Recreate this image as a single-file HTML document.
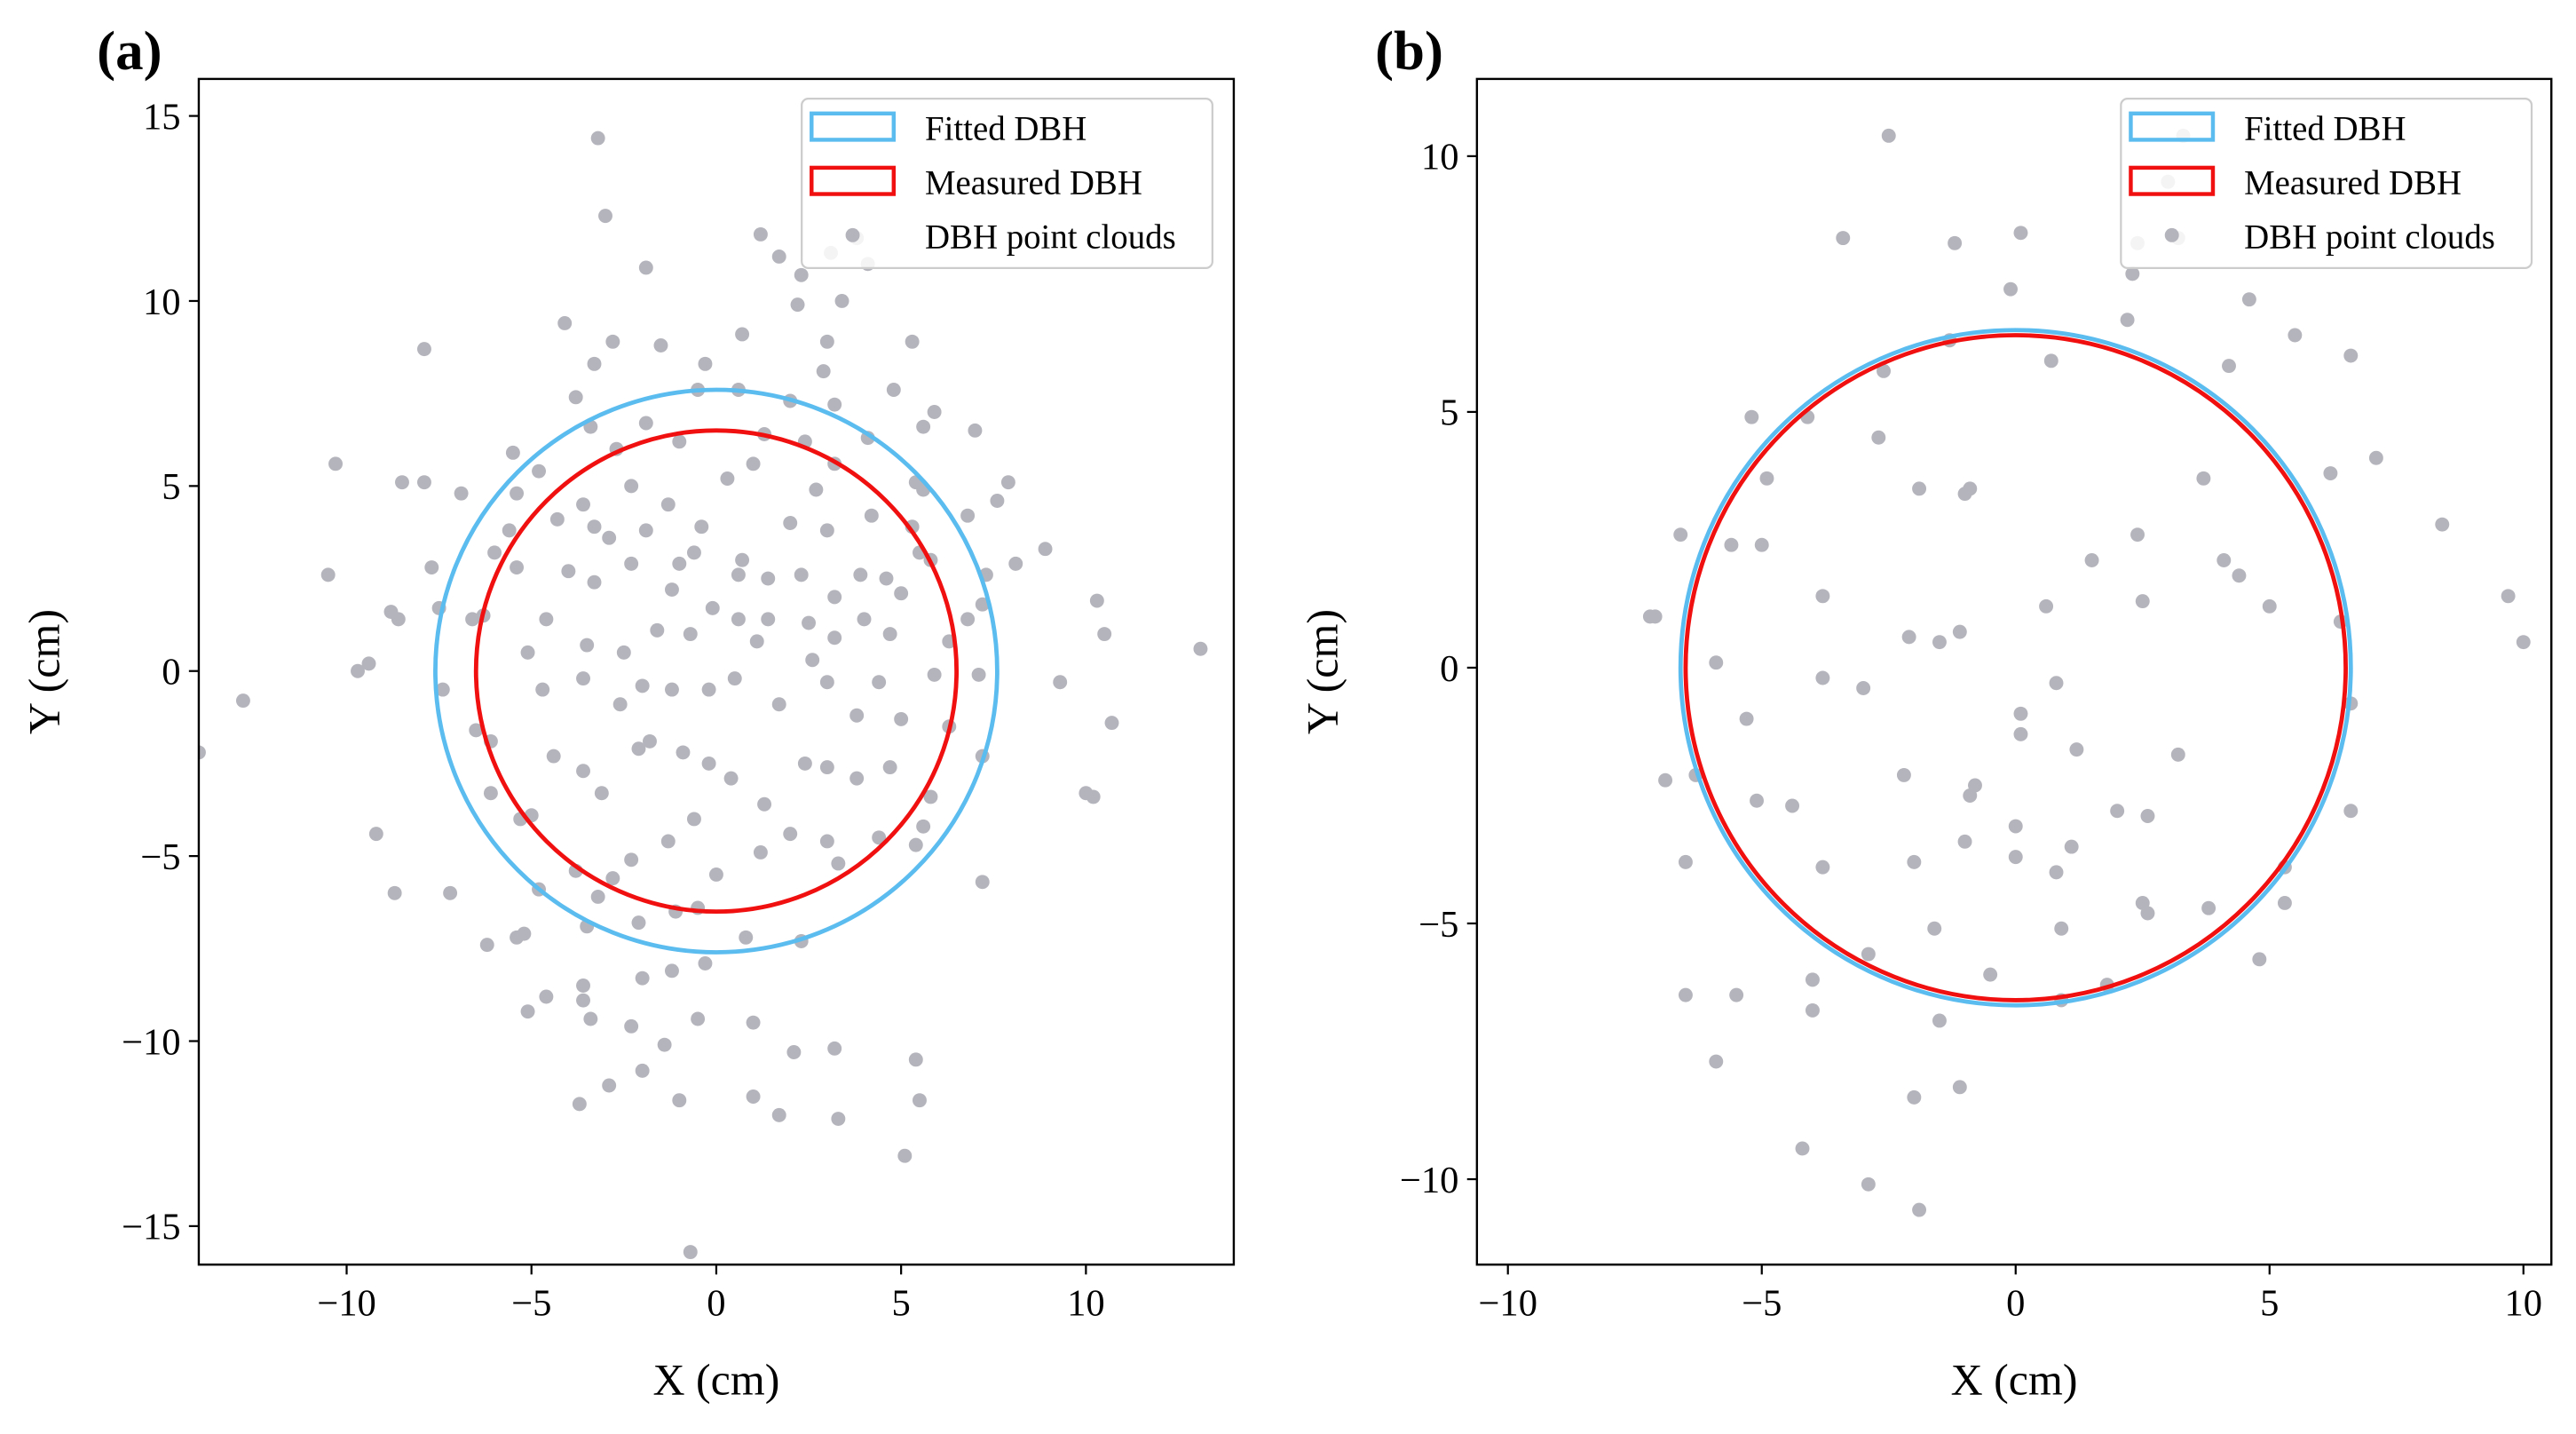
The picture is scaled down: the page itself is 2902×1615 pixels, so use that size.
<!DOCTYPE html>
<html><head><meta charset="utf-8"><style>
html,body{margin:0;padding:0;background:#fff;}
svg{display:block;font-family:"Liberation Serif",serif;}
</style></head><body>
<svg id="chart" width="2902" height="1615" viewBox="0 0 1568 872" preserveAspectRatio="none" xmlns="http://www.w3.org/2000/svg">
<defs>
<clipPath id="clipA"><rect x="121" y="48" width="630" height="721"/></clipPath>
<clipPath id="clipB"><rect x="899" y="48" width="654" height="721"/></clipPath>
</defs>
<g id="pa"></g>
<g id="pb"></g>
</svg>
<script>
const NS="http://www.w3.org/2000/svg";
const ptsA_x=[-3.2,-3.0,-1.9,1.2,1.7,2.3,3.1,3.8,3.4,2.2,3.0,4.1,5.3,0.7,-0.3,-1.5,-2.8,-3.3,-4.1,-3.8,-7.9,-5.5,-3.4,-1.9,-0.5,0.6,2.0,3.2,4.8,5.6,5.9,7.0,2.9,-10.3,-8.5,-7.9,-6.9,-5.4,-4.8,-2.7,-2.3,-1.0,0.3,1.0,1.3,2.4,3.2,4.1,5.4,5.6,7.6,7.9,6.8,-3.6,-4.3,-5.6,-6.0,-3.3,-2.9,-1.9,-1.3,-0.4,-0.6,-1.0,0.7,1.4,2.0,2.7,3.0,4.2,5.3,5.5,5.8,-10.5,-8.8,-8.6,-7.7,-7.5,-6.3,-5.4,-4.0,-3.3,-2.3,-1.2,-0.1,0.6,1.4,2.3,2.5,3.2,3.9,4.6,5.0,7.3,7.2,8.1,8.9,6.8,-9.4,-9.7,-7.4,-6.6,-5.1,-4.6,-3.5,-2.5,-1.6,-0.7,0.6,1.1,2.6,3.2,4.0,4.7,6.3,7.1,10.3,10.5,13.1,9.3,-12.8,-14,-6.5,-6.1,-4.7,-3.6,-2.6,-2.0,-1.2,-0.2,0.5,1.7,3.0,3.8,4.4,5.0,5.9,6.3,7.2,10.7,-9.2,-8.7,-7.2,-6.1,-5.3,-4.4,-3.6,-3.1,-2.1,-1.8,-0.9,-0.2,0.4,1.3,2.4,3.0,3.8,4.7,5.8,5.6,10.0,10.2,7.2,-5.0,-4.8,-3.8,-2.8,-2.3,-1.3,-0.6,0.0,1.2,2.0,3.0,3.3,4.4,5.4,-6.2,-5.4,-5.2,-3.5,-3.2,-2.1,-1.1,-0.5,-0.3,-1.2,0.8,2.3,-5.1,-4.6,-3.6,-3.6,-3.4,-2.3,-2.0,-1.4,-0.5,1.0,2.1,3.2,-2.0,-2.9,-3.7,-1.0,1.0,1.7,3.3,5.4,5.5,5.1,-0.7];
const ptsA_y=[14.4,12.3,10.9,11.8,11.2,10.7,11.3,11.7,10.0,9.9,8.9,11.0,8.9,9.1,8.3,8.8,8.9,8.3,9.4,7.4,8.7,5.9,6.6,6.7,7.6,7.6,7.3,7.2,7.6,6.6,7.0,6.5,8.1,5.6,5.1,5.1,4.8,4.8,5.4,6.0,5.0,6.2,5.2,5.6,6.4,6.2,5.6,6.3,5.1,4.9,4.6,5.1,4.2,4.5,4.1,3.8,3.2,3.9,3.6,3.8,4.5,3.9,3.2,2.9,3.0,2.5,4.0,4.9,3.8,4.2,3.9,3.2,3.0,2.6,1.6,1.4,2.8,1.7,1.5,2.8,2.7,2.4,2.9,2.2,1.7,2.6,1.4,2.6,1.3,2.0,2.6,2.5,2.1,2.6,1.8,2.9,3.3,1.4,0.2,0.0,-0.5,1.4,0.5,1.4,0.7,0.5,1.1,1.0,1.4,0.8,0.3,0.9,1.4,1.0,0.8,-0.1,1.9,1.0,0.6,-0.3,-0.8,-2.2,-1.6,-1.9,-0.5,-0.2,-0.9,-0.4,-0.5,-0.5,-0.2,-0.9,-0.3,-1.2,-0.3,-1.3,-0.1,-1.5,-2.3,-1.4,-4.4,-6.0,-6.0,-3.3,-4.0,-2.3,-2.7,-3.3,-2.1,-1.9,-2.2,-2.5,-2.9,-3.6,-2.5,-2.6,-2.9,-2.6,-3.4,-4.2,-3.3,-3.4,-5.7,-3.9,-5.9,-5.4,-5.6,-5.1,-4.6,-4.0,-5.5,-4.9,-4.4,-4.6,-5.2,-4.5,-4.7,-7.4,-7.2,-7.1,-6.9,-6.1,-6.8,-6.5,-6.4,-7.9,-8.1,-7.2,-7.3,-9.2,-8.8,-8.5,-8.9,-9.4,-9.6,-8.3,-10.1,-9.4,-9.5,-10.3,-10.2,-10.8,-11.2,-11.7,-11.6,-11.5,-12.0,-12.1,-10.5,-11.6,-13.1,-15.7];
const ptsB_x=[-2.5,3.3,-3.4,-1.2,0.1,3.0,2.4,3.2,2.3,2.2,-0.1,4.6,5.5,6.6,4.2,-1.3,-2.6,0.7,-2.7,-5.2,-4.1,-4.9,-1.9,-1.0,-0.9,3.7,6.2,7.1,8.4,-6.6,-5.6,-5.0,1.5,2.4,4.1,4.4,-3.8,2.5,5.0,6.4,9.7,10.0,-7.2,-7.1,-2.1,-1.1,-1.5,0.6,-5.9,-3.8,-3.0,0.8,0.1,0.1,-5.3,6.6,-6.9,-6.3,1.2,3.2,-2.2,-5.1,-4.4,-0.8,-0.9,2.0,2.6,6.6,0.0,-1.0,0.0,1.1,-6.5,-3.8,-2.0,0.8,5.3,2.5,2.6,3.8,5.3,0.9,-1.6,-2.9,4.8,-0.5,-4.0,1.8,0.9,-6.5,-5.5,-4.0,-1.5,-5.9,-2.0,-1.1,-4.2,-2.9,-1.9];
const ptsB_y=[10.4,10.4,8.4,8.3,8.5,9.5,8.3,8.4,7.7,6.8,7.4,7.2,6.5,6.1,5.9,6.4,5.8,6.0,4.5,4.9,4.9,3.7,3.5,3.4,3.5,3.7,3.8,4.1,2.8,2.6,2.4,2.4,2.1,2.6,2.1,1.8,1.4,1.3,1.2,0.9,1.4,0.5,1.0,1.0,0.6,0.7,0.5,1.2,0.1,-0.2,-0.4,-0.3,-0.9,-1.3,-1.0,-0.7,-2.2,-2.1,-1.6,-1.7,-2.1,-2.6,-2.7,-2.3,-2.5,-2.8,-2.9,-2.8,-3.1,-3.4,-3.7,-3.5,-3.8,-3.9,-3.8,-4.0,-3.9,-4.6,-4.8,-4.7,-4.6,-5.1,-5.1,-5.6,-5.7,-6.0,-6.1,-6.2,-6.5,-6.4,-6.4,-6.7,-6.9,-7.7,-8.4,-8.2,-9.4,-10.1,-10.6];
const radiiA=[7.6,6.5];
const radiiB=[6.6,6.5];
const ticksA_x=[-10,-5,0,5,10], ticksA_y=[-15,-10,-5,0,5,10,15];
const ticksB_x=[-10,-5,0,5,10], ticksB_y=[-10,-5,0,5,10];
const legendLabels=["Fitted DBH","Measured DBH","DBH point clouds"];

function el(tag,attrs,parent,text){const e=document.createElementNS(NS,tag);for(const k in attrs)e.setAttribute(k,attrs[k]);if(text!==undefined)e.textContent=text;parent.appendChild(e);return e;}

function panel(g,cfg){
  const {L,R,T,B,x0,x1,y0,y1,xs,ys,radii,tx,ty,clip,label,lgX,lgW}=cfg;
  const sx=v=>L+(v-x0)/(x1-x0)*(R-L);
  const sy=v=>B-(v-y0)/(y1-y0)*(B-T);
  const pg=el('g',{'clip-path':'url(#'+clip+')'},g);
  
  
  for(let i=0;i<xs.length;i++){
    const c=el('circle',{cx:sx(xs[i]),cy:sy(ys[i]),r:4.3,fill:'#b4b4bc'},pg);
    
    
  }
  const unit=(R-L)/(x1-x0), unitY=(B-T)/(y1-y0);
  const f=el('ellipse',{cx:sx(0),cy:sy(0),rx:radii[0]*unit,ry:radii[0]*unitY,fill:'none',stroke:'#5bbcef','stroke-width':2.6},g);
  
  
  const m=el('ellipse',{cx:sx(0),cy:sy(0),rx:radii[1]*unit,ry:radii[1]*unitY,fill:'none',stroke:'#f01010','stroke-width':2.6},g);
  
  
  const fr=el('rect',{x:L,y:T,width:R-L,height:B-T,fill:'none',stroke:'#000','stroke-width':1.3},g);
  
  
  tx.forEach(v=>{const x=sx(v);el('line',{x1:x,x2:x,y1:B,y2:B+6,stroke:'#000','stroke-width':1.2},g);
    const t=el('text',{x:x,y:B+31,'text-anchor':'middle','font-size':23},g,v<0?'\u2212'+(-v):String(v));
    });
  ty.forEach(v=>{const y=sy(v);el('line',{x1:L-6,x2:L,y1:y,y2:y,stroke:'#000','stroke-width':1.2},g);
    const t=el('text',{x:L-11,y:y+8,'text-anchor':'end','font-size':23},g,v<0?'\u2212'+(-v):String(v));
    });
  const xl=el('text',{x:(L+R)/2,y:848,'text-anchor':'middle','font-size':27},g,'X (cm)');
  
  const yl=el('text',{x:0,y:0,'text-anchor':'middle','font-size':27,transform:'translate('+(L-85)+','+((T+B)/2)+') rotate(-90)'},g,'Y (cm)');
  
  const pl=el('text',{x:L-62,y:42,'font-size':34,'font-weight':'bold'},g,label);
  
  const lg=el('g',{},g);
  
  
  el('rect',{x:lgX,y:60,width:lgW,height:103,rx:4,fill:'#fff','fill-opacity':0.85,stroke:'#ccc','stroke-width':1.2},lg);
  el('rect',{x:lgX+6,y:69,width:50,height:16,fill:'none',stroke:'#5bbcef','stroke-width':2.4},lg);
  el('rect',{x:lgX+6,y:102,width:50,height:16,fill:'none',stroke:'#f01010','stroke-width':2.4},lg);
  el('circle',{cx:lgX+31,cy:143,r:4.3,fill:'#b4b4bc'},lg);
  legendLabels.forEach((s,i)=>{const t=el('text',{x:lgX+75,y:85+33*i,'font-size':21},lg,s);
    });
}
panel(document.getElementById('pa'),{L:121,R:751,T:48,B:769,x0:-14,x1:14,y0:-16.04,y1:16.0,xs:ptsA_x,ys:ptsA_y,radii:radiiA,tx:ticksA_x,ty:ticksA_y,clip:'clipA',label:'(a)',lgX:488,lgW:250});
panel(document.getElementById('pb'),{L:899,R:1553,T:48,B:769,x0:-10.61,x1:10.55,y0:-11.67,y1:11.51,xs:ptsB_x,ys:ptsB_y,radii:radiiB,tx:ticksB_x,ty:ticksB_y,clip:'clipB',label:'(b)',lgX:1291,lgW:250});
</script>
</body></html>
